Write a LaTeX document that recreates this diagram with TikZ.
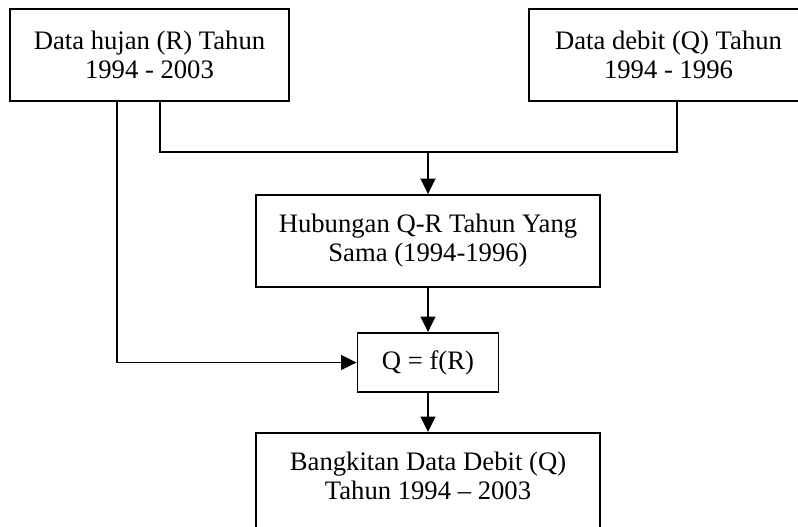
\documentclass[tikz,border=0pt]{standalone}
\usepackage{fontspec}
\setmainfont{Liberation Serif}
\usepackage{tikz}
\usetikzlibrary{arrows.meta}
\tikzset{
	box/.style={draw=black,line width=1.4pt,align=center,inner sep=0pt,font=\fontsize{20pt}{21.75pt}\selectfont},
	link/.style={line width=1.3pt},
	arr/.style={link,-{Triangle[length=11.5pt,width=11pt]}}
}

\begin{document}
\begin{tikzpicture}[x=0.75pt,y=-0.75pt]
			\useasboundingbox (0,0) rectangle (798,526);
			\clip (0,0) rectangle (798,526);
			\node[box,minimum width=209.25pt,minimum height=69pt] (hujan) at (149.5,55) {Data hujan (R) Tahun\\1994 - 2003};
			\node[box,minimum width=209.25pt,minimum height=69pt] (debit) at (668.5,55) {Data debit (Q) Tahun\\1994 - 1996};
			\node[box,minimum width=258pt,minimum height=69pt] (hub) at (428,241) {Hubungan Q-R Tahun Yang\\Sama (1994-1996)};
			\node[box,minimum width=105.75pt,minimum height=44.25pt] (qfr) at (428,362.5) {Q = f(R)};
			\node[box,minimum width=258pt,anchor=north,inner ysep=14.5pt,text depth=20pt] (bangkit) at (428,432) {Bangkitan Data Debit (Q)\\Tahun 1994 -- 2003};
			
			\coordinate[shift={(-32.5,0)}] (h1) at (hujan.south);
			\coordinate[shift={(10.5,0)}] (h2) at (hujan.south);
			\coordinate[shift={(8.5,0)}] (d1) at (debit.south);
			\coordinate (jn) at (428,152);
			
			% hujan + debit ke hubungan
			\draw[link] (h2) |- (jn) -| (d1);
			\draw[arr] (jn) -- (hub.north);
			\draw[arr] (hub.south) -- (qfr.north);
			% hujan langsung ke Q = f(R)
			\draw[arr] (h1) |- (qfr.west);
			\draw[arr] (qfr.south) -- (bangkit.north);
\end{tikzpicture}
\end{document}
